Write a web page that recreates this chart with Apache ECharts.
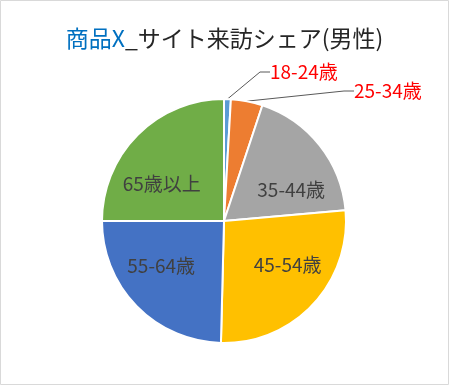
<!DOCTYPE html>
<html><head><meta charset="utf-8">
<script src="https://cdn.jsdelivr.net/npm/echarts@6/dist/echarts.min.js"></script>
<style>html,body{margin:0;padding:0;background:#fff}#c{width:449px;height:385px}</style>
</head><body><div id="c"></div>
<script>
const categories = ['18-24歳','25-34歳','35-44歳','45-54歳','55-64歳','65歳以上'];
const shares = [0.9, 4.2, 18.5, 26.8, 24.6, 25.0];
const colors = ['#5B9BD5','#ED7D31','#A5A5A5','#FFC000','#4472C4','#70AD47'];
const outsideLabels = ['18-24歳','25-34歳'];

const chart = echarts.init(document.getElementById('c'), null, {renderer:'canvas'});
const CX = 224, CY = 221, R = 122;
const FONT = '"Noto Sans CJK JP", "Noto Sans", sans-serif';

const data = categories.map((name, i) => {
  const out = outsideLabels.includes(name);
  return {
    name, value: shares[i],
    itemStyle: {color: colors[i]},
    label: out ? {position:'outside', color:'#FF0000'} : {position:'inside', color:'#404040'},
    labelLine: {show: out}
  };
});

chart.setOption({
  animation: false,
  graphic: [{type:'rect', shape:{x:0.5,y:0.5,width:448,height:384}, style:{fill:'none', stroke:'#D9D9D9', lineWidth:1}}],
  title: {
    text: '{a|商品X}{b|_サイト来訪シェア(男性)}',
    left: 'center', top: 22,
    textStyle: {rich: {
      a: {color:'#0070C0', fontSize:23, fontWeight:'normal', fontFamily:FONT},
      b: {color:'#262626', fontSize:23, fontWeight:'normal', fontFamily:FONT}
    }}
  },
  series: [{
    type: 'pie',
    center: [CX, CY], radius: R,
    startAngle: 90, clockwise: true,
    itemStyle: {borderColor:'#fff', borderWidth:2},
    label: {show:true, formatter:'{b}', fontSize:19, fontFamily:FONT},
    labelLine: {lineStyle:{color:'#595959', width:1}, length: 10, length2: 10},
    labelLayout: function (p) {
      const name = categories[p.dataIndex];
      if (name === '18-24歳') return {x: 270, y: 72, align:'left', verticalAlign:'middle'};
      if (name === '25-34歳') return {x: 354, y: 91, align:'left', verticalAlign:'middle'};
      const rc = p.labelRect;
      const mx = rc.x + rc.width/2, my = rc.y + rc.height/2;
      const sx = mx < CX ? -1 : 1;
      const up = my < CY;
      return {dx: sx * 17, dy: up ? 8 : 0};
    },
    data
  }]
});
</script></body></html>
